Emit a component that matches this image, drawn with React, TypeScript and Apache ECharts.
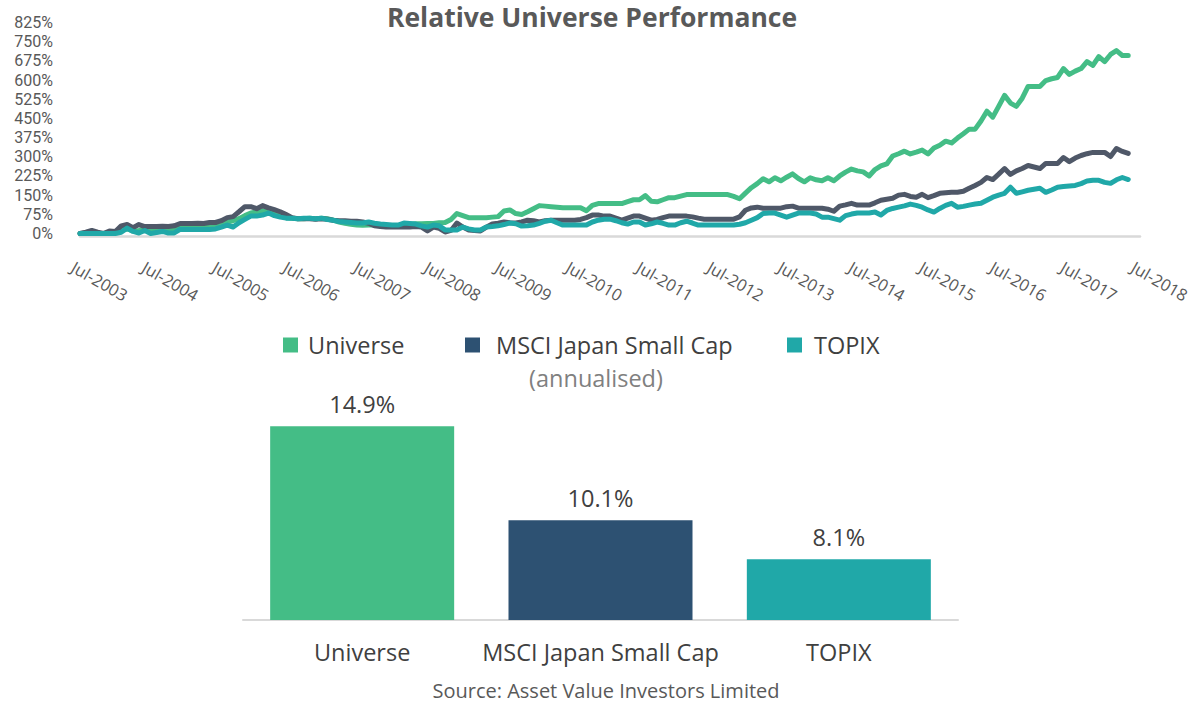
import React, { useEffect, useRef } from "react";
import * as echarts from "echarts";

// Monthly categories, Jul-2003 .. Jul-2018
const MONTH_NAMES = ["Jan","Feb","Mar","Apr","May","Jun","Jul","Aug","Sep","Oct","Nov","Dec"];
const START_YEAR = 2003;
const START_MONTH = 6; // July
const MONTH_COUNT = 181;
const MONTHS: string[] = [];
for (let i = 0; i < MONTH_COUNT; i++) {
  const mi = START_MONTH + i;
  MONTHS.push(MONTH_NAMES[mi % 12] + "-" + (START_YEAR + Math.floor(mi / 12)));
}

const SERIES_NAMES = ["Universe", "MSCI Japan Small Cap", "TOPIX"];

// Relative performance, % (monthly, Jul-2003 .. May-2018)
const UNIVERSE = [
  0, 2, 0, 0, 0, 3, 5, 15, 18, 10, 12, 15,
  12, 15, 18, 15, 18, 22, 22, 25, 25, 25, 28, 32,
  39, 45, 50, 58, 70, 80, 84, 89, 86, 80, 70, 62,
  60, 58, 58, 60, 58, 60, 58, 52, 45, 40, 36, 33,
  32, 33, 33, 31, 31, 30, 30, 35, 36, 38, 38, 39,
  39, 42, 43, 55, 78, 70, 62, 62, 62, 62, 64, 66,
  88, 92, 78, 74, 85, 97, 109, 107, 105, 103, 101, 101,
  101, 101, 89, 110, 117, 117, 117, 117, 117, 125, 132, 132,
  148, 126, 124, 132, 140, 140, 146, 152, 152, 152, 152, 152,
  152, 152, 152, 145, 136, 158, 179, 195, 214, 202, 218, 206,
  220, 233, 215, 202, 218, 210, 206, 218, 206, 225, 240, 252,
  245, 241, 225, 250, 264, 272, 303, 312, 322, 311, 318, 326,
  311, 334, 345, 361, 354, 373, 390, 408, 408, 440, 478, 455,
  497, 540, 510, 497, 529, 575, 575, 575, 598, 605, 610, 645,
  622, 635, 645, 672, 657, 692, 672, 700, 715, 696, 696,
];
const MSCI = [
  0, 5, 12, 5, 0, 10, 8, 30, 35, 23, 35, 27,
  27, 27, 28, 27, 30, 39, 39, 39, 40, 39, 43, 43,
  50, 62, 66, 85, 105, 105, 97, 109, 100, 93, 85, 74,
  62, 58, 58, 58, 56, 58, 56, 52, 50, 50, 48, 48,
  45, 40, 30, 27, 25, 25, 25, 25, 25, 27, 25, 10,
  25, 20, 6, 12, 41, 25, 14, 12, 10, 25, 37, 40,
  45, 42, 41, 45, 52, 50, 45, 50, 52, 52, 52, 52,
  52, 55, 62, 72, 72, 68, 68, 60, 52, 60, 68, 68,
  60, 52, 55, 62, 68, 68, 68, 68, 65, 60, 56, 56,
  56, 56, 56, 56, 65, 91, 100, 103, 99, 99, 99, 99,
  105, 107, 99, 99, 99, 99, 99, 95, 87, 107, 112, 118,
  111, 111, 111, 120, 130, 134, 138, 150, 153, 145, 142, 153,
  140, 148, 157, 159, 161, 161, 165, 177, 188, 200, 219, 211,
  232, 254, 231, 245, 254, 266, 260, 254, 274, 274, 274, 297,
  281, 295, 305, 312, 317, 317, 317, 301, 332, 321, 313,
];
const TOPIX = [
  0, 0, 0, 0, 0, 0, 0, 5, 21, 8, 2, 12,
  0, 4, 8, 2, 2, 16, 16, 16, 16, 16, 16, 18,
  25, 33, 25, 42, 55, 68, 68, 72, 80, 70, 64, 60,
  60, 58, 60, 60, 58, 60, 55, 52, 47, 45, 43, 41,
  41, 45, 40, 37, 35, 33, 33, 41, 39, 37, 30, 25,
  33, 30, 14, 14, 14, 25, 18, 14, 14, 25, 27, 30,
  35, 41, 38, 29, 30, 33, 40, 48, 52, 42, 33, 33,
  33, 33, 33, 45, 52, 56, 56, 50, 42, 37, 45, 45,
  33, 38, 45, 40, 33, 33, 42, 48, 41, 33, 33, 33,
  33, 33, 33, 33, 36, 42, 52, 62, 78, 80, 80, 72,
  64, 72, 80, 80, 80, 76, 64, 64, 58, 52, 70, 76,
  80, 80, 80, 84, 72, 90, 98, 103, 108, 115, 110, 103,
  92, 84, 98, 110, 118, 103, 106, 111, 115, 118, 130, 142,
  150, 157, 181, 157, 163, 169, 173, 177, 161, 170, 181, 184,
  186, 188, 195, 205, 208, 208, 200, 196, 210, 219, 211,
];

// Annualised returns, %
const BAR_CATEGORIES = ["Universe", "MSCI Japan Small Cap", "TOPIX"];
const BAR_VALUES = [14.9, 10.1, 8.1];

const LINE_COLORS = ["#44BD86", "#4F5868", "#20A8A8"];
const BAR_COLORS = ["#44BD86", "#2D5172", "#20A8A8"];
const FONT = "'Open Sans', 'DejaVu Sans', sans-serif";

export default function App() {
  const ref = useRef<HTMLDivElement>(null);

  useEffect(() => {
    if (!ref.current) return;
    const chart = echarts.init(ref.current, undefined, { renderer: "svg" });

    const legendPos = [
      { left: 283, pad: 5 },
      { left: 465, pad: 11 },
      { left: 787, pad: 7 },
    ];

    const option: any = {
      animation: false,
      backgroundColor: "#ffffff",
      textStyle: { fontFamily: FONT },
      grid: [
        { left: 80, top: 22.5, width: 1060, height: 211 },
        { left: 73, top: 22.5, width: 1060, height: 211 },
        { left: 243, top: 404.6, width: 715, height: 215.4 },
      ],
      legend: SERIES_NAMES.map((name, i) => ({
        left: legendPos[i].left,
        top: 333,
        itemWidth: 15,
        itemHeight: 15,
        selectedMode: false,
        padding: 0,
        data: [
          {
            name,
            icon: "rect",
            itemStyle: { color: BAR_COLORS[i], borderWidth: 0 },
          },
        ],
        textStyle: {
          fontFamily: FONT,
          fontSize: 23.5,
          color: "#404040",
          padding: [0, 0, 0, legendPos[i].pad],
        },
      })),
      xAxis: [
        {
          gridIndex: 0,
          type: "category",
          data: MONTHS,
          boundaryGap: false,
          offset: 3,
          axisLine: { onZero: false, lineStyle: { color: "#D9D9D9", width: 2.5 } },
          axisTick: { show: false },
          axisLabel: { show: false },
          splitLine: { show: false },
        },
        {
          gridIndex: 1,
          type: "category",
          data: MONTHS,
          boundaryGap: false,
          offset: 3,
          axisLine: { show: false, onZero: false },
          axisTick: { show: false },
          axisLabel: {
            interval: 11,
            rotate: -30,
            margin: 29,
            fontFamily: FONT,
            fontSize: 16.5,
            color: "#595959",
          },
          splitLine: { show: false },
        },
        {
          gridIndex: 2,
          type: "category",
          data: BAR_CATEGORIES,
          axisLine: { onZero: false, lineStyle: { color: "#D9D9D9", width: 2 } },
          axisTick: { show: false },
          axisLabel: {
            interval: 0,
            margin: 20,
            fontFamily: FONT,
            fontSize: 23.5,
            color: "#404040",
          },
        },
      ],
      yAxis: [
        {
          gridIndex: 0,
          type: "value",
          min: 0,
          max: 825,
          interval: 75,
          axisLine: { show: false },
          axisTick: { show: false },
          splitLine: { show: false },
          axisLabel: {
            formatter: "{value}%",
            margin: 27,
            fontFamily: "Roboto, 'Open Sans', sans-serif",
            fontSize: 16,
            lineHeight: 16,
            color: "#595959",
          },
        },
        { gridIndex: 1, type: "value", show: false, min: 0, max: 825 },
        {
          gridIndex: 2,
          type: "value",
          min: 5,
          max: 16,
          show: false,
          splitLine: { show: false },
        },
      ],
      graphic: [
        {
          type: "text",
          x: 592,
          y: 17,
          style: {
            text: "Relative Universe Performance",
            fill: "#595959",
            font: `bold 26.5px ${FONT}`,
            lineHeight: 28,
            align: "center",
            verticalAlign: "middle",
          },
        },
        {
          type: "text",
          x: 596,
          y: 378,
          style: {
            text: "(annualised)",
            fill: "#808080",
            font: `23.5px ${FONT}`,
            align: "center",
            verticalAlign: "middle",
          },
        },
        {
          type: "text",
          x: 606,
          y: 690,
          style: {
            text: "Source: Asset Value Investors Limited",
            fill: "#595959",
            font: `20px ${FONT}`,
            align: "center",
            verticalAlign: "middle",
          },
        },
      ],
      series: [
        ...[UNIVERSE, MSCI, TOPIX].map((data, i) => ({
          name: SERIES_NAMES[i],
          type: "line",
          xAxisIndex: 0,
          yAxisIndex: 0,
          data,
          symbol: "none",
          smooth: false,
          z: 2 + i,
          color: LINE_COLORS[i],
          lineStyle: { width: 5, color: LINE_COLORS[i], cap: "round", join: "round" },
        })),
        {
          name: "Annualised",
          type: "bar",
          xAxisIndex: 2,
          yAxisIndex: 2,
          barWidth: 184,
          data: BAR_VALUES.map((v, i) => ({ value: v, itemStyle: { color: BAR_COLORS[i] } })),
          label: {
            show: true,
            position: "top",
            distance: 10,
            formatter: (p: any) => p.value + "%",
            fontFamily: FONT,
            fontSize: 23.5,
            color: "#404040",
          },
        },
      ],
    };

    chart.setOption(option);
    return () => chart.dispose();
  }, []);

  return (
    <div
      ref={ref}
      style={{ position: "fixed", left: 0, top: 0, width: 1203, height: 708, background: "#fff" }}
    />
  );
}
